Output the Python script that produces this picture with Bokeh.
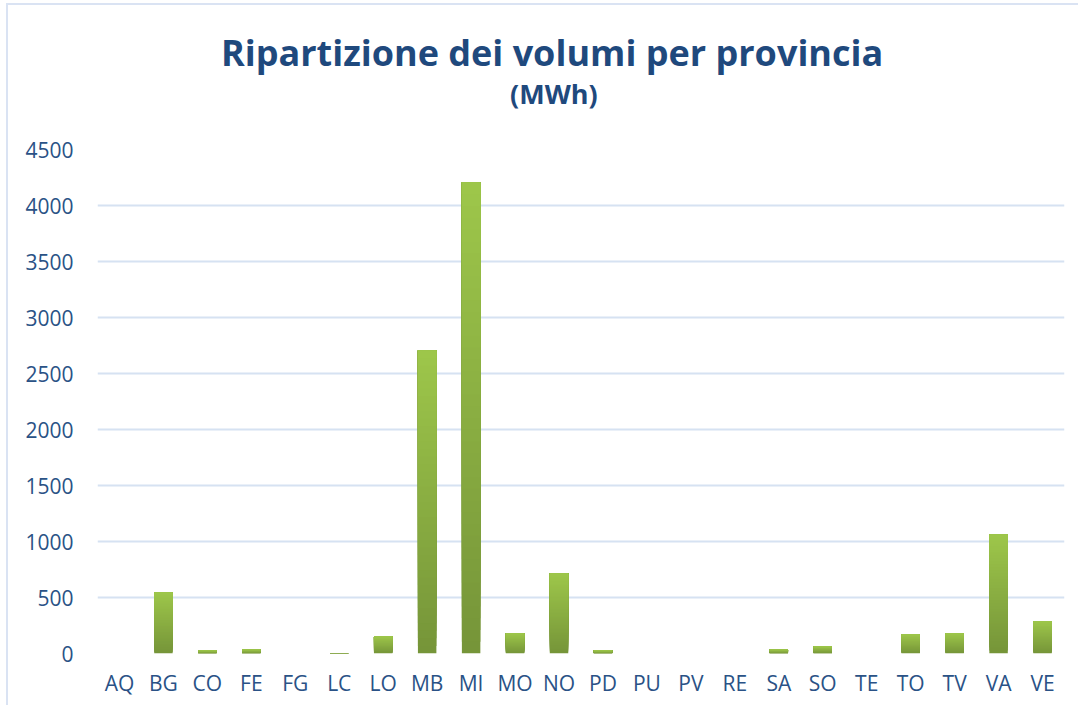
from bokeh.plotting import figure
from bokeh.layouts import column
from bokeh.models import FactorRange, Range1d, FixedTicker, ColumnDataSource
from bokeh.core.properties import value
from bokeh.embed import file_html
from bokeh.resources import INLINE

provinces = ["AQ", "BG", "CO", "FE", "FG", "LC", "LO", "MB", "MI", "MO", "NO",
             "PD", "PU", "PV", "RE", "SA", "SO", "TE", "TO", "TV", "VA", "VE"]
volumes = [0, 545, 27, 36, 0, 3, 152, 2705, 4205, 179, 714,
           27, 0, 0, 0, 36, 62, 0, 170, 179, 1062, 286]
y_ticks = [0, 500, 1000, 1500, 2000, 2500, 3000, 3500, 4000, 4500]
title_text = "Ripartizione dei volumi per provincia"
subtitle_text = "(MWh)"

TITLE_COLOR = "#1F497D"
LABEL_COLOR = "#2A5286"
GRID_COLOR = "#D6E2F2"
DARK = (0x76, 0x95, 0x39)
LIGHT = (0x9D, 0xC6, 0x4A)
N = 40
W = 1070
HEAD_H = 130

# ---- header with title and subtitle ----
head = figure(width=W, height=HEAD_H, x_range=Range1d(0, W), y_range=Range1d(0, HEAD_H),
              x_axis_type=None, y_axis_type=None, output_backend="svg",
              toolbar_location=None, min_border=0)
head.outline_line_color = None
head.border_fill_color = "white"
head.text(x=[503], y=[83], text=[title_text], text_align="center",
          text_baseline="middle", text_font=value("Open Sans"),
          text_font_size="36px", text_font_style="bold", text_color=TITLE_COLOR)
head.text(x=[505], y=[42], text=[subtitle_text], text_align="center",
          text_baseline="middle", text_font=value("Open Sans"),
          text_font_size="27px", text_font_style="bold", text_color=TITLE_COLOR)

# ---- bars: gradient as overlapping layers ----
xs, bots, tops, cols = [], [], [], []
for cat, v in zip(provinces, volumes):
    for i in range(N):
        t = i / (N - 1)
        c = tuple(int(round(DARK[k] + (LIGHT[k] - DARK[k]) * t)) for k in range(3))
        xs.append(cat)
        bots.append(v * i / N)
        tops.append(v)
        cols.append("#%02x%02x%02x" % c)
src = ColumnDataSource(dict(x=xs, bottom=bots, top=tops, color=cols))

p = figure(x_range=FactorRange(*provinces, range_padding=0),
           y_range=Range1d(0, 4500),
           width=W, height=570,
           output_backend="svg", toolbar_location=None,
           min_border_left=89, min_border_right=14,
           min_border_top=14, min_border_bottom=52)

p.vbar(x="x", bottom="bottom", top="top", width=0.42, color="color",
       line_color=None, source=src)

p.outline_line_color = None
p.background_fill_color = "white"
p.border_fill_color = "white"

p.xgrid.grid_line_color = None
p.ygrid.grid_line_color = GRID_COLOR
p.ygrid.grid_line_width = 2
p.yaxis.ticker = FixedTicker(ticks=y_ticks)

for ax in (p.xaxis, p.yaxis):
    ax.axis_line_color = None
    ax.major_tick_line_color = None
    ax.minor_tick_line_color = None
    ax.major_label_text_font = "Open Sans"
    ax.major_label_text_font_size = "21px"
    ax.major_label_text_color = LABEL_COLOR
p.yaxis.major_label_standoff = 18
p.xaxis.major_label_standoff = 9

layout = column(head, p, spacing=0)
layout.styles = {"margin-left": "6px", "margin-top": "3px",
                 "border-left": "2px solid #DAE3F3", "border-top": "2px solid #DAE3F3"}

open("out.html", "w").write(file_html(layout, INLINE))
